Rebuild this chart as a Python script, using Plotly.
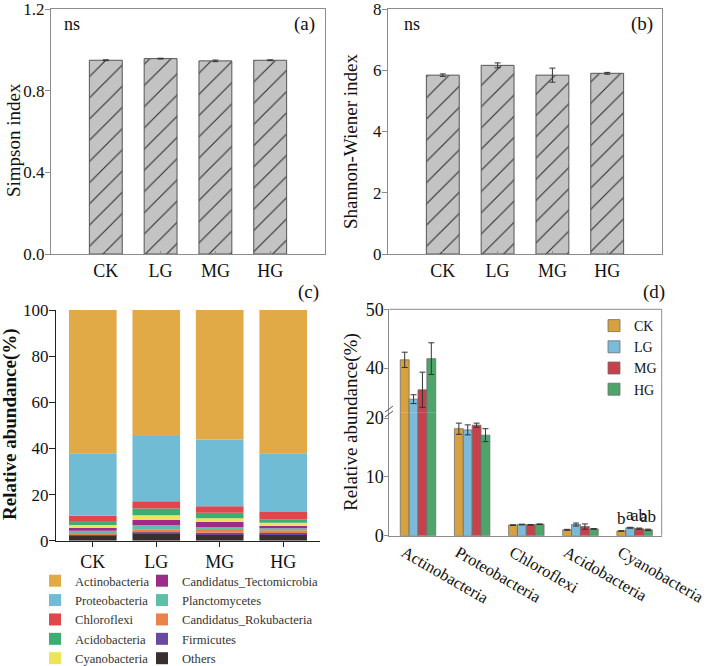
import numpy as np
import plotly.graph_objects as go

W, H = 709, 666
def px(x): return x / W
def py(y): return 1 - y / H

FONT = "Liberation Serif, Times New Roman, serif"

# ---------------- data ----------------
groups = ["CK", "LG", "MG", "HG"]
simpson = [0.949, 0.957, 0.946, 0.949]
simpson_err = [0.002, 0.002, 0.004, 0.002]
simpson_ticks = [0.0, 0.4, 0.8, 1.2]
shannon = [5.84, 6.16, 5.84, 5.90]
shannon_err = [0.04, 0.08, 0.23, 0.03]
shannon_ticks = [0, 2, 4, 6, 8]

# stacked composition (panel c), listed bottom -> top
stack_phyla = ["Others", "Firmicutes", "Candidatus_Rokubacteria", "Planctomycetes",
               "Candidatus_Tectomicrobia", "Cyanobacteria", "Acidobacteria",
               "Chloroflexi", "Proteobacteria", "Actinobacteria"]
others = [2.2, 3.2, 2.8, 2.5]
firmicutes = [0.6, 0.5, 0.7, 0.8]
rokubacteria = [0.7, 1.3, 1.1, 1.2]
planctomycetes = [0.8, 1.8, 1.3, 0.9]
tectomicrobia = [1.3, 2.2, 2.2, 1.1]
cyanobacteria = [1.2, 2.0, 1.6, 1.3]
acidobacteria = [1.7, 3.0, 2.4, 1.5]
chloroflexi = [2.3, 3.1, 2.8, 3.1]
proteobacteria = [27.1, 28.3, 29.0, 25.5]
actinobacteria = [62.1, 54.6, 56.1, 62.1]
stack_values = [others, firmicutes, rokubacteria, planctomycetes, tectomicrobia,
                cyanobacteria, acidobacteria, chloroflexi, proteobacteria, actinobacteria]
stack_colors = ["#3A2F2F", "#6A4A9F", "#E8834A", "#5DBFA8", "#9C2B8C",
                "#ECE55A", "#3DAE72", "#E0474C", "#70BCD5", "#E2A947"]
legend_col1 = {"Actinobacteria", "Proteobacteria", "Chloroflexi", "Acidobacteria", "Cyanobacteria"}

# panel d
top_phyla = ["Actinobacteria", "Proteobacteria", "Chloroflexi", "Acidobacteria", "Cyanobacteria"]
d_ck = [41.4, 18.2, 1.8, 1.0, 0.8]
d_ck_err = [1.3, 0.95, 0.05, 0.08, 0.05]
d_lg = [34.7, 18.0, 1.9, 1.9, 1.35]
d_lg_err = [0.75, 0.85, 0.06, 0.25, 0.08]
d_mg = [36.3, 18.8, 1.85, 1.55, 1.2]
d_mg_err = [3.0, 0.35, 0.06, 0.45, 0.1]
d_hg = [41.6, 17.1, 1.95, 1.15, 1.0]
d_hg_err = [2.7, 1.1, 0.05, 0.06, 0.12]
d_series = [d_ck, d_lg, d_mg, d_hg]
d_errs = [d_ck_err, d_lg_err, d_mg_err, d_hg_err]
d_colors = ["#D7A13E", "#7BBAD9", "#C6414A", "#4FA46C"]
cyano_letters = ["b", "a", "ab", "ab"]

fig = go.Figure()

# ---------------- panels a & b ----------------
hatch = dict(shape="/", fgcolor="#2A2A2A", bgcolor="#C3C3C3", size=15, solidity=0.07)
for vals, errs, xa, ya in [(simpson, simpson_err, "x", "y"), (shannon, shannon_err, "x2", "y2")]:
    fig.add_trace(go.Bar(
        x=groups, y=vals, width=0.6, xaxis=xa, yaxis=ya, showlegend=False,
        marker=dict(color="#C3C3C3", line=dict(color="#555555", width=1), pattern=hatch),
        error_y=dict(type="data", array=errs, color="#333333", thickness=1, width=3),
    ))

# ---------------- panel c ----------------
bases = np.concatenate([[np.zeros(4)], np.cumsum(np.array(stack_values), axis=0)[:-1]])
for name, vals, col, base in zip(stack_phyla, stack_values, stack_colors, bases):
    fig.add_trace(go.Bar(
        x=groups, y=vals, base=base, width=0.75, offset=-0.375, name=name,
        xaxis="x3", yaxis="y3", marker=dict(color=col, line=dict(width=0)),
        legend="legend2" if name in legend_col1 else "legend3",
    ))

# ---------------- panel d ----------------
for ya, show in [("y4", True), ("y5", False)]:
    for g, vals, errs, col in zip(groups, d_series, d_errs, d_colors):
        fig.add_trace(go.Bar(
            x=top_phyla, y=vals, name=g, xaxis="x4", yaxis=ya, showlegend=show,
            legend="legend", legendgroup=g,
            marker=dict(color=col, line=dict(color="#6E6E6E", width=0.8)),
            error_y=dict(type="data", array=errs, color="#333333", thickness=1, width=3),
        ))

fig.update_layout(barmode="group", bargap=0.345, bargroupgap=0)

axis_gray = "#8C8C8C"
tickfont = dict(family=FONT, size=17, color="#111111")
xtickfont = dict(family=FONT, size=18, color="#111111")

common_ab_x = dict(showline=True, linecolor=axis_gray, linewidth=1, mirror=True,
                   ticks="inside", ticklen=3, tickcolor=axis_gray, tickfont=xtickfont,
                   range=[-1, 4], showgrid=False, zeroline=False, automargin=False)
common_ab_y = dict(showline=True, linecolor=axis_gray, linewidth=1, mirror=True,
                   ticks="outside", ticklen=5, tickcolor=axis_gray, tickfont=tickfont,
                   showgrid=False, zeroline=False, automargin=False,
                   ticklabeloverflow="allow", ticklabelstandoff=-3)

fig.update_layout(
    template="none",
    xaxis=dict(domain=[px(51), px(325)], anchor="y", **common_ab_x),
    yaxis=dict(domain=[py(254), py(9)], anchor="x", range=[0, 1.2], tickvals=simpson_ticks,
               tickformat=".1f", **common_ab_y),
    xaxis2=dict(domain=[px(388), px(662)], anchor="y2", **common_ab_x),
    yaxis2=dict(domain=[py(254), py(9)], anchor="x2", range=[0, 8], tickvals=shannon_ticks,
                **common_ab_y),
    xaxis3=dict(domain=[px(56), px(320)], anchor="y3", range=[-0.58, 3.58],
                showline=True, linecolor="#222222", linewidth=1.2, ticks="outside",
                ticklen=5, tickcolor="#222222", tickfont=xtickfont, showgrid=False,
                zeroline=False, automargin=False),
    yaxis3=dict(domain=[py(540.7), py(310)], anchor="x3", range=[0, 100], dtick=20,
                showline=True, linecolor="#222222", linewidth=1.2, ticks="outside",
                ticklen=6, tickcolor="#222222", tickfont=tickfont, showgrid=False,
                zeroline=False, automargin=False, ticklabeloverflow="allow",
                ticklabelstandoff=-3),
    xaxis4=dict(domain=[px(389.3), px(661.7)], anchor="y4", range=[-0.53, 4.5],
                showline=True, linecolor=axis_gray, linewidth=1, ticks="",
                tickangle=30, tickfont=dict(family=FONT, size=16.5, color="#111111"),
                ticklabelshift=-14, showgrid=False, zeroline=False, automargin=False,
                ticklabeloverflow="allow"),
    yaxis4=dict(domain=[py(535.7), py(409.3)], anchor="x4", range=[0, 21.5],
                tickvals=[0, 10, 20], showline=True, linecolor=axis_gray, linewidth=1,
                ticks="outside", ticklen=4, tickcolor=axis_gray, tickfont=xtickfont,
                showgrid=False, zeroline=False, automargin=False,
                ticklabeloverflow="allow", ticklabelstandoff=-3),
    yaxis5=dict(domain=[py(412.7), py(309.3)], anchor="x4", range=[32.4, 50],
                tickvals=[40, 50], showline=True, linecolor=axis_gray, linewidth=1,
                ticks="outside", ticklen=4, tickcolor=axis_gray, tickfont=xtickfont,
                showgrid=False, zeroline=False, automargin=False,
                ticklabeloverflow="allow", ticklabelstandoff=-3),
)

# letters above Cyanobacteria bars (panel d)
cy = top_phyla.index("Cyanobacteria")
offsets = [-0.245, -0.082, 0.082, 0.245]
annotations = []
for k, (vals, errs, lab) in enumerate(zip(d_series, d_errs, cyano_letters)):
    annotations.append(dict(x=cy + offsets[k], y=vals[cy] + errs[cy] + 0.2, xref="x4", yref="y4",
                            text=lab, showarrow=False, yanchor="bottom", xanchor="center",
                            font=dict(family=FONT, size=17, color="#111111")))

def txt(x, y, t, size=18, angle=0, xanchor="center", bold=False):
    return dict(x=px(x), y=py(y), xref="paper", yref="paper", text=("<b>%s</b>" % t) if bold else t,
                showarrow=False, textangle=angle, xanchor=xanchor, yanchor="middle",
                font=dict(family=FONT, size=size, color="#111111"))

annotations += [
    txt(62, 24, "ns", 18, xanchor="left"),
    txt(317, 24, "(a)", 19, xanchor="right"),
    txt(402, 24, "ns", 18, xanchor="left"),
    txt(655, 24, "(b)", 19, xanchor="right"),
    txt(321, 292, "(c)", 19, xanchor="right"),
    txt(667, 292, "(d)", 19, xanchor="right"),
    txt(13, 140, "Simpson index", 19, angle=-90),
    txt(351, 142, "Shannon-Wiener index", 19, angle=-90),
    txt(10, 424, "Relative abundance(%)", 19, angle=-90, bold=True),
    txt(351, 422, "Relative abundance(%)", 19, angle=-90),
]

shapes = [
    # frame of panel d (top and right)
    dict(type="line", xref="paper", yref="paper", x0=px(389.3), x1=px(661.7), y0=py(309.3), y1=py(309.3),
         line=dict(color=axis_gray, width=1)),
    dict(type="line", xref="paper", yref="paper", x0=px(661.7), x1=px(661.7), y0=py(309.3), y1=py(535.7),
         line=dict(color=axis_gray, width=1)),
    # axis-break marks
    dict(type="line", xref="paper", yref="paper", x0=px(385), x1=px(393), y0=py(412), y1=py(406),
         line=dict(color="#555555", width=1)),
    dict(type="line", xref="paper", yref="paper", x0=px(385), x1=px(393), y0=py(417), y1=py(411),
         line=dict(color="#555555", width=1)),
]

legend_font = dict(family=FONT, size=12.6, color="#333333")
fig.update_layout(
    width=W, height=H, margin=dict(l=0, r=0, t=0, b=0, autoexpand=False),
    paper_bgcolor="white", plot_bgcolor="white",
    annotations=annotations, shapes=shapes,
    legend=dict(x=px(594), y=py(310), xanchor="left", yanchor="top", bgcolor="rgba(0,0,0,0)",
                font=dict(family=FONT, size=14, color="#111111"), traceorder="normal"),
    legend2=dict(x=px(35), y=py(566), xanchor="left", yanchor="top", bgcolor="rgba(0,0,0,0)",
                 font=legend_font, traceorder="reversed"),
    legend3=dict(x=px(142), y=py(566), xanchor="left", yanchor="top", bgcolor="rgba(0,0,0,0)",
                 font=legend_font, traceorder="reversed"),
)

fig.write_html("out.html")
